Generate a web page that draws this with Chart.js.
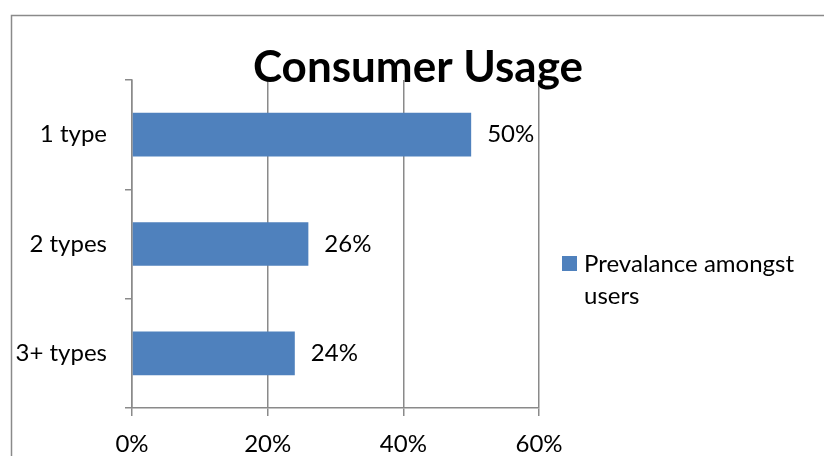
<!DOCTYPE html>
<html>
<head>
<meta charset="utf-8">
<script src="https://cdn.jsdelivr.net/npm/chart.js@4/dist/chart.umd.min.js"></script>
<style>
  html, body { margin: 0; padding: 0; background: #ffffff; }
  #wrap { width: 824px; height: 456px; }
</style>
</head>
<body>
<div id="wrap"><canvas id="c" width="824" height="456"></canvas></div>
<script>
const chartTitle = 'Consumer Usage';
const categories = ['1 type', '2 types', '3+ types'];
const seriesName = 'Prevalance amongst users';
const legendLines = ['Prevalance amongst', 'users'];
const values = [50, 26, 24];
const xTicks = [0, 20, 40, 60];

const FONT = 'Lato, "Open Sans", sans-serif';
const GRAY = '#8a8a8a';
const BAR = '#4f81bd';

const decor = {
  id: 'decor',
  beforeDraw(chart) {
    const ctx = chart.ctx;
    ctx.save();
    ctx.fillStyle = '#ffffff';
    ctx.fillRect(0, 0, chart.width, chart.height);
    ctx.strokeStyle = GRAY;
    ctx.lineWidth = 1.5;
    ctx.beginPath();
    ctx.moveTo(11.5, chart.height + 5);
    ctx.lineTo(11.5, 15.5);
    ctx.lineTo(chart.width + 5, 15.5);
    ctx.stroke();
    ctx.restore();
  },
  afterDraw(chart) {
    const ctx = chart.ctx;
    ctx.save();
    // title
    ctx.font = 'bold 44px ' + FONT;
    ctx.fillStyle = '#000000';
    ctx.textAlign = 'center';
    ctx.textBaseline = 'alphabetic';
    ctx.fillText(chartTitle, 418, 82);
    // data labels
    const meta = chart.getDatasetMeta(0);
    ctx.font = '24px ' + FONT;
    ctx.textAlign = 'left';
    ctx.textBaseline = 'middle';
    meta.data.forEach((el, i) => {
      ctx.fillText(values[i] + '%', el.x + 16, el.y);
    });
    // legend
    ctx.fillStyle = BAR;
    ctx.fillRect(562, 256, 15, 15);
    ctx.fillStyle = '#000000';
    ctx.textBaseline = 'alphabetic';
    legendLines.forEach((t, i) => ctx.fillText(t, 584, 272 + i * 32));
    ctx.restore();
  }
};

new Chart(document.getElementById('c'), {
  type: 'bar',
  data: {
    labels: categories,
    datasets: [{
      label: seriesName,
      data: values,
      backgroundColor: BAR,
      borderWidth: 0,
      barPercentage: 0.4,
      categoryPercentage: 1.0
    }]
  },
  options: {
    indexAxis: 'y',
    responsive: false,
    animation: false,
    devicePixelRatio: 1,
    layout: { padding: { left: 0, right: 285, top: 80, bottom: 0 } },
    plugins: {
      legend: { display: false },
      title: { display: false },
      tooltip: { enabled: false }
    },
    scales: {
      x: {
        min: 0, max: 60,
        afterBuildTicks(scale) { scale.ticks = xTicks.map(v => ({ value: v })); },
        afterFit(scale) { scale.height = 48; },
        ticks: {
          callback: v => v + '%',
          color: '#000000',
          font: { family: FONT, size: 24 },
          padding: 14,
          maxRotation: 0
        },
        grid: { color: GRAY, lineWidth: 1.5, tickLength: 8, drawTicks: true },
        border: { color: GRAY, width: 1.5 }
      },
      y: {
        afterFit(scale) { scale.width = 132; },
        ticks: {
          color: '#000000',
          font: { family: FONT, size: 24 },
          padding: 18
        },
        grid: { color: GRAY, lineWidth: 1.5, drawOnChartArea: false, tickLength: 7, offset: true },
        border: { color: GRAY, width: 1.5 }
      }
    }
  },
  plugins: [decor]
});
</script>
</body>
</html>
